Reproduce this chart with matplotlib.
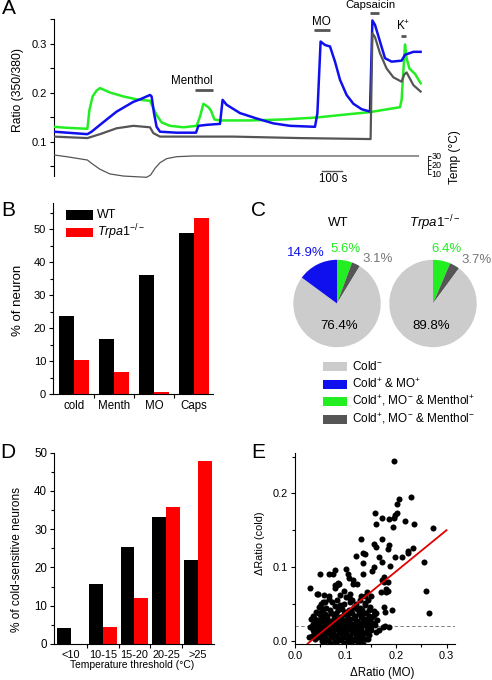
import matplotlib
matplotlib.use('Agg')
import matplotlib.pyplot as plt
from matplotlib.patches import Rectangle
from matplotlib.ticker import FixedLocator, MultipleLocator, FormatStrFormatter
import numpy as np

plt.rcParams['font.family'] = ['Liberation Sans', 'DejaVu Sans']
plt.rcParams['mathtext.fontset'] = 'custom'
plt.rcParams['mathtext.rm'] = 'Liberation Sans'
plt.rcParams['mathtext.it'] = 'Liberation Sans:italic'
plt.rcParams['mathtext.bf'] = 'Liberation Sans:bold'
plt.rcParams['font.size'] = 8.2
plt.rcParams['axes.linewidth'] = 0.8

# ---------------- DATA ----------------
# Panel A: ratio traces (time in s, ratio 350/380)
green_t = [0, 63, 167, 177, 193, 213, 230, 280, 347, 413, 480, 493, 513, 538, 580, 647, 713, 730, 747,
           772, 785, 802, 830, 980, 1147, 1313, 1480, 1580, 1730, 1738, 1755, 1763, 1777, 1805, 1833]
green_r = [0.131, 0.129, 0.127, 0.165, 0.193, 0.205, 0.210, 0.201, 0.193, 0.187, 0.184, 0.172, 0.155, 0.140,
           0.133, 0.130, 0.133, 0.152, 0.178, 0.171, 0.164, 0.146, 0.144, 0.144, 0.146, 0.150, 0.157, 0.161,
           0.171, 0.186, 0.299, 0.271, 0.250, 0.239, 0.220]
blue_t = [0, 167, 188, 230, 313, 397, 430, 480, 488, 500, 513, 530, 613, 710, 722, 763, 830, 843, 863, 930,
          1013, 1097, 1180, 1305, 1317, 1333, 1355, 1380, 1405, 1430, 1463, 1497, 1538, 1580, 1592, 1605,
          1630, 1655, 1688, 1738, 1755, 1797, 1833]
blue_r = [0.121, 0.116, 0.121, 0.135, 0.162, 0.182, 0.187, 0.196, 0.193, 0.159, 0.131, 0.121, 0.119, 0.119,
          0.133, 0.135, 0.137, 0.186, 0.176, 0.159, 0.148, 0.138, 0.133, 0.131, 0.159, 0.305, 0.298, 0.295,
          0.264, 0.227, 0.196, 0.178, 0.167, 0.162, 0.348, 0.339, 0.305, 0.271, 0.264, 0.266, 0.278, 0.284,
          0.284]
gray_t = [0, 167, 230, 313, 397, 480, 497, 530, 897, 1230, 1583, 1592, 1605, 1630, 1663, 1697, 1738, 1750,
          1763, 1797, 1833]
gray_r = [0.111, 0.108, 0.116, 0.128, 0.133, 0.130, 0.118, 0.111, 0.111, 0.108, 0.106, 0.322, 0.314, 0.281,
          0.250, 0.232, 0.223, 0.237, 0.242, 0.216, 0.203]
temp_t = [0, 63, 167, 188, 230, 280, 347, 463, 483, 505, 530, 563, 613, 697, 1822]
temp_c = [30.8, 28.9, 25.2, 21.5, 14.9, 9.7, 7.4, 6.0, 8.6, 16.0, 22.2, 26.7, 28.9, 29.7, 29.7]
stim_names = ['Menthol', 'MO', 'Capsaicin', 'K$^{+}$']
stim_on = [705, 1300, 1580, 1735]
stim_off = [795, 1380, 1625, 1760]

# Panel B
b_cats = ['cold', 'Menth', 'MO', 'Caps']
b_wt = [23.6, 16.6, 36.0, 48.9]
b_ko = [10.2, 6.7, 0.5, 53.2]

# Panel C
c_labels = ['Cold$^{-}$', 'Cold$^{+}$ & MO$^{+}$', 'Cold$^{+}$, MO$^{-}$ & Menthol$^{+}$',
            'Cold$^{+}$, MO$^{-}$ & Menthol$^{-}$']
c_wt = [76.4, 14.9, 5.6, 3.1]
c_ko = [89.8, 0.0, 6.4, 3.7]

# Panel D
d_cats = ['<10', '10-15', '15-20', '20-25', '>25']
d_wt = [4.1, 15.6, 25.4, 33.3, 22.0]
d_ko = [0.0, 4.5, 11.9, 35.9, 47.9]

# Panel E scatter (dRatio MO, dRatio cold)
e_x = [0.196, 0.201, 0.206, 0.229, 0.158, 0.172, 0.186, 0.199, 0.201, 0.196, 0.160, 0.218, 0.236, 0.194,
       0.274, 0.131, 0.173, 0.156, 0.160, 0.187, 0.185, 0.224, 0.233, 0.224, 0.135, 0.139, 0.120, 0.166,
       0.199, 0.211, 0.172, 0.256, 0.135, 0.157, 0.188, 0.100, 0.079, 0.067, 0.075, 0.050, 0.153, 0.134,
       0.104, 0.107, 0.114, 0.177, 0.172, 0.177, 0.185, 0.114, 0.122, 0.088, 0.083, 0.080, 0.030, 0.097,
       0.180, 0.180, 0.170, 0.185, 0.259, 0.143, 0.150, 0.139, 0.068, 0.059, 0.046, 0.109, 0.100, 0.129,
       0.139, 0.109, 0.089, 0.177, 0.193, 0.178, 0.266, 0.157, 0.147, 0.142, 0.175, 0.187, 0.178, 0.167,
       0.158, 0.043, 0.056, 0.079, 0.086,
       0.048, 0.061, 0.079, 0.094, 0.117, 0.129, 0.138,
       0.041, 0.054, 0.071, 0.086, 0.101, 0.111, 0.126, 0.146, 0.161,
       0.036, 0.049, 0.064, 0.077, 0.091, 0.104, 0.119, 0.133, 0.153,
       0.031, 0.044, 0.057, 0.070, 0.083, 0.096, 0.109, 0.123, 0.137, 0.149,
       0.036, 0.048, 0.060, 0.073, 0.087, 0.099, 0.114, 0.128, 0.141, 0.156,
       0.030, 0.042, 0.054, 0.066, 0.079, 0.092, 0.105, 0.117, 0.131, 0.144,
       0.037, 0.050, 0.062, 0.074, 0.087, 0.100, 0.112, 0.125, 0.137, 0.151,
       0.033, 0.046, 0.058, 0.070, 0.082, 0.095, 0.108, 0.120, 0.132, 0.147,
       0.040, 0.053, 0.065, 0.077, 0.090, 0.102, 0.115, 0.127, 0.140,
       0.058, 0.070, 0.084, 0.097, 0.110, 0.135,
       0.068, 0.074, 0.083, 0.058, 0.120, 0.112, 0.148, 0.157, 0.163, 0.160, 0.145, 0.125, 0.028, 0.035,
       0.052, 0.089, 0.098, 0.108, 0.130, 0.145,
       0.055, 0.070, 0.087, 0.106, 0.123, 0.133,
       0.046, 0.060, 0.082, 0.097, 0.113, 0.129, 0.141,
       0.038, 0.051, 0.063, 0.077, 0.090, 0.103, 0.116, 0.130, 0.143,
       0.042, 0.054, 0.067, 0.080, 0.093, 0.106, 0.120, 0.134, 0.148,
       0.036, 0.048, 0.060, 0.072, 0.085, 0.098, 0.111, 0.124, 0.137, 0.150,
       0.043, 0.056, 0.068, 0.081, 0.094, 0.106, 0.118, 0.131, 0.143,
       0.039, 0.051, 0.064, 0.076, 0.088, 0.101, 0.113, 0.126, 0.139,
       0.046, 0.059, 0.071, 0.083, 0.096, 0.108, 0.121, 0.133,
       0.053, 0.066, 0.079, 0.091, 0.104, 0.117, 0.130]
e_y = [0.244, 0.186, 0.193, 0.195, 0.174, 0.167, 0.165, 0.171, 0.174, 0.166, 0.158, 0.163, 0.159, 0.154,
       0.153, 0.138, 0.138, 0.131, 0.127, 0.130, 0.125, 0.122, 0.126, 0.119, 0.119, 0.118, 0.115, 0.114,
       0.114, 0.113, 0.107, 0.107, 0.106, 0.100, 0.102, 0.098, 0.096, 0.090, 0.090, 0.091, 0.094, 0.090,
       0.091, 0.085, 0.082, 0.087, 0.082, 0.080, 0.080, 0.077, 0.077, 0.077, 0.075, 0.072, 0.071, 0.068,
       0.070, 0.066, 0.066, 0.067, 0.068, 0.066, 0.061, 0.060, 0.061, 0.053, 0.064, 0.057, 0.059, 0.055,
       0.051, 0.052, 0.048, 0.046, 0.042, 0.039, 0.037, 0.035, 0.033, 0.026, 0.019, 0.019, 0.020, 0.014,
       0.021, 0.064, 0.053, 0.076, 0.078,
       0.046, 0.044, 0.047, 0.043, 0.046, 0.044, 0.048,
       0.039, 0.041, 0.038, 0.041, 0.039, 0.042, 0.038, 0.041, 0.038,
       0.033, 0.036, 0.034, 0.035, 0.032, 0.036, 0.033, 0.035, 0.032,
       0.029, 0.028, 0.030, 0.027, 0.030, 0.028, 0.030, 0.027, 0.029, 0.027,
       0.023, 0.025, 0.022, 0.024, 0.023, 0.025, 0.022, 0.024, 0.022, 0.024,
       0.018, 0.017, 0.019, 0.017, 0.019, 0.016, 0.019, 0.017, 0.019, 0.017,
       0.012, 0.014, 0.012, 0.013, 0.011, 0.014, 0.012, 0.013, 0.011, 0.014,
       0.007, 0.008, 0.006, 0.009, 0.007, 0.008, 0.006, 0.009, 0.007, 0.008,
       0.002, 0.003, 0.001, 0.004, 0.002, 0.003, 0.001, 0.004, 0.002,
       -0.002, -0.003, -0.001, -0.003, -0.002, -0.004,
       0.057, 0.052, 0.055, 0.062, 0.050, 0.055, 0.046, 0.040, 0.028, 0.012, 0.002, -0.003, 0.005, 0.015,
       0.050, 0.062, 0.050, 0.064, 0.060, 0.055,
       0.043, 0.042, 0.044, 0.041, 0.043, 0.042,
       0.037, 0.036, 0.038, 0.036, 0.037, 0.036, 0.038,
       0.031, 0.032, 0.030, 0.031, 0.032, 0.030, 0.031, 0.032, 0.030,
       0.026, 0.027, 0.025, 0.026, 0.027, 0.025, 0.026, 0.027, 0.025,
       0.021, 0.020, 0.021, 0.020, 0.021, 0.020, 0.021, 0.020, 0.021, 0.020,
       0.015, 0.016, 0.015, 0.016, 0.015, 0.016, 0.015, 0.016, 0.015,
       0.010, 0.010, 0.011, 0.010, 0.010, 0.011, 0.010, 0.010, 0.011,
       0.005, 0.004, 0.005, 0.004, 0.005, 0.004, 0.005, 0.004,
       0.000, 0.001, 0.000, 0.001, 0.000, 0.001, 0.000]
fit_slope = 0.56
fit_intercept = -0.018
fit_range = [0.025, 0.30]
cold_threshold = 0.02

# ---------------- FIGURE ----------------
W, H = 492, 680
fig = plt.figure(figsize=(W / 100, H / 100), dpi=100)


def rect(l, t, r, b):
    return [l / W, 1 - b / H, (r - l) / W, (b - t) / H]


def ftext(x, y, s, **kw):
    kw.setdefault('ha', 'center')
    kw.setdefault('va', 'center')
    return fig.text(x / W, 1 - y / H, s, **kw)


GREEN = '#22ee22'
BLUE = '#1010ee'
DGRAY = '#555555'
LGRAY = '#cccccc'
TICK = 8.0
LET = 15

# ---- Panel A ----
axA = fig.add_axes(rect(54, 17, 428, 182))
axA.plot(green_t, green_r, color=GREEN, lw=1.8, zorder=3)
axA.plot(blue_t, blue_r, color=BLUE, lw=1.8, zorder=4)
axA.plot(gray_t, gray_r, color=DGRAY, lw=1.6, zorder=5)
axA.set_xlim(0, 1870)
axA.set_ylim(0.1 - (182 - 142) / 490, 0.1 + (142 - 17) / 490)
for s in ['top', 'right', 'bottom']:
    axA.spines[s].set_visible(False)
axA.spines['left'].set_bounds(0.03, 0.35)
axA.set_xticks([])
axA.yaxis.set_major_locator(FixedLocator([0.1, 0.2, 0.3]))
axA.yaxis.set_minor_locator(FixedLocator([0.05, 0.15, 0.25, 0.35]))
axA.yaxis.set_major_formatter(FormatStrFormatter('%.1f'))
axA.tick_params(axis='y', which='both', direction='out', length=3, width=0.8, pad=2, labelsize=TICK)
for name, t0, t1, yb in zip(stim_names, stim_on, stim_off, [0.2061, 0.3286, 0.3633, 0.3163]):
    axA.plot([t0, t1], [yb, yb], color=DGRAY, lw=2.0, solid_capstyle='butt', clip_on=False)
ftext(192, 81, 'Menthol', fontsize=8.4)
ftext(321, 22, 'MO', fontsize=8.4)
ftext(370, 4.5, 'Capsaicin', fontsize=8.2)
ftext(403, 26, 'K$^{+}$', fontsize=8.4)
# scale bar
axA.plot([1340, 1440], [0.0408, 0.0408], color=DGRAY, lw=1.0, clip_on=False)
ftext(333, 179, '100 s', fontsize=8.3)
ftext(18, 90, 'Ratio (350/380)', rotation=90, fontsize=8.7)

axT = axA.twinx()
axT.plot(temp_t, temp_c, color=DGRAY, lw=0.9)
axT.set_ylim(30 - (182 - 155.7) / 0.9, 30 + (155.7 - 17) / 0.9)
for s in ['top', 'left', 'bottom']:
    axT.spines[s].set_visible(False)
axT.spines['right'].set_bounds(10, 30)
axT.spines['right'].set_linewidth(0.6)
axT.yaxis.set_major_locator(FixedLocator([10, 20, 30]))
axT.yaxis.set_minor_locator(FixedLocator([15, 25]))
axT.tick_params(axis='y', which='both', direction='out', length=2, width=0.6, labelsize=6.5, pad=0.5)
ftext(455, 157, 'Temp (°C)', rotation=90, fontsize=8.6)
ftext(9, 9, 'A', fontsize=LET)

# ---- Panel B ----
bw = 0.375
axB = fig.add_axes(rect(53, 394 - 58 * 3.3, 213, 394))
xb = np.arange(1, len(b_cats) + 1)
axB.bar(xb - bw / 2, b_wt, bw, color='black', linewidth=0)
axB.bar(xb + bw / 2, b_ko, bw, color='#ff0000', linewidth=0)
axB.set_xlim(0.475, 4.475)
axB.set_ylim(0, 58)
for s in ['top', 'right']:
    axB.spines[s].set_visible(False)
axB.set_xticks(xb)
axB.set_xticklabels(b_cats)
axB.xaxis.set_minor_locator(FixedLocator([1.5, 2.5, 3.5]))
axB.tick_params(axis='x', which='major', length=0, pad=4, labelsize=8.3)
axB.tick_params(axis='x', which='minor', length=3, width=0.8, direction='out')
axB.yaxis.set_major_locator(MultipleLocator(10))
axB.yaxis.set_minor_locator(MultipleLocator(5))
axB.tick_params(axis='y', which='major', length=3, width=0.8, direction='out', pad=2, labelsize=TICK)
axB.tick_params(axis='y', which='minor', length=2, width=0.8, direction='out')
ftext(18, 300, '% of neuron', rotation=90, fontsize=9.5)
fig.patches.append(Rectangle((66 / W, 1 - 220 / H), 27 / W, 10 / H, transform=fig.transFigure,
                             facecolor='black', edgecolor='none'))
fig.patches.append(Rectangle((66 / W, 1 - 237 / H), 27 / W, 9 / H, transform=fig.transFigure,
                             facecolor='#ff0000', edgecolor='none'))
ftext(97, 215, 'WT', ha='left', fontsize=9)
ftext(97, 232, r'$\mathit{Trpa1}^{-/-}$', ha='left', fontsize=9)
ftext(8, 211, 'B', fontsize=LET)

# ---- Panel C ----
pie_order = [2, 3, 0, 1]  # clockwise from top: menthol+, menthol-, cold-, MO+
pie_colors_all = [LGRAY, BLUE, GREEN, DGRAY]
R = 43.7
for cx, vals in [(337, c_wt), (433, c_ko)]:
    axp = fig.add_axes(rect(cx - R, 303.5 - R, cx + R, 303.5 + R))
    v = [vals[i] for i in pie_order if vals[i] > 0]
    cl = [pie_colors_all[i] for i in pie_order if vals[i] > 0]
    axp.pie(v, colors=cl, startangle=90, counterclock=False, radius=1,
            wedgeprops=dict(linewidth=0))
    axp.set_xlim(-1, 1)
    axp.set_ylim(-1, 1)
    axp.set_aspect('auto')
    axp.axis('off')
PF = 9.5
ftext(338, 223, 'WT', fontsize=9.5)
ftext(435, 223, r'$\mathit{Trpa1}^{-/-}$', fontsize=9.5)
ftext(306, 253, f'{c_wt[1]:.1f}%', color=BLUE, fontsize=PF)
ftext(346, 249, f'{c_wt[2]:.1f}%', color=GREEN, fontsize=PF)
ftext(378, 259, f'{c_wt[3]:.1f}%', color='#777777', fontsize=PF)
ftext(339, 326, f'{c_wt[0]:.1f}%', fontsize=PF)
ftext(446, 249, f'{c_ko[2]:.1f}%', color=GREEN, fontsize=PF)
ftext(477, 260, f'{c_ko[3]:.1f}%', color='#777777', fontsize=PF)
ftext(431, 326, f'{c_ko[0]:.1f}%', fontsize=PF)
for i, (lab, col) in enumerate(zip(c_labels, pie_colors_all)):
    yc = [367, 384, 401, 419][i]
    fig.patches.append(Rectangle((323 / W, 1 - (yc + 4.5) / H), 24 / W, 9 / H,
                                 transform=fig.transFigure, facecolor=col, edgecolor='none'))
    ftext(352, yc, lab, ha='left', fontsize=8.5)
ftext(258, 210, 'C', fontsize=LET)

# ---- Panel D ----
dw = 0.44
axD = fig.add_axes(rect(54, 452.7, 214, 644))
xd = np.arange(1, len(d_cats) + 1)
axD.bar(xd - dw / 2, d_wt, dw, color='black', linewidth=0)
axD.bar(xd + dw / 2, d_ko, dw, color='#ff0000', linewidth=0)
axD.set_xlim(0.465, 5.504)
axD.set_ylim(0, 50)
for s in ['top', 'right']:
    axD.spines[s].set_visible(False)
axD.set_xticks(xd)
axD.set_xticklabels(d_cats)
axD.xaxis.set_minor_locator(FixedLocator([1.5, 2.5, 3.5, 4.5]))
axD.tick_params(axis='x', which='major', length=0, pad=4, labelsize=7.9)
axD.tick_params(axis='x', which='minor', length=3, width=0.8, direction='out')
axD.yaxis.set_major_locator(MultipleLocator(10))
axD.yaxis.set_minor_locator(MultipleLocator(5))
axD.tick_params(axis='y', which='major', length=3, width=0.8, direction='out', pad=2, labelsize=8.3)
axD.tick_params(axis='y', which='minor', length=2, width=0.8, direction='out')
ftext(17, 560, '% of cold-sensitive neurons', rotation=90, fontsize=8.6)
ftext(132, 665, 'Temperature threshold (°C)', fontsize=7.4)
ftext(8, 452, 'D', fontsize=LET)

# ---- Panel E ----
axE = fig.add_axes(rect(295, 453, 455, 644))
axE.scatter(e_x, e_y, s=19, color='black', linewidths=0, zorder=3)
fx = np.array(fit_range)
axE.plot(fx, fit_slope * fx + fit_intercept, color='#e00000', lw=1.3, zorder=4)
axE.axhline(cold_threshold, color='#666666', lw=0.6, ls=(0, (4, 3)), zorder=2)
axE.set_xlim(0, 160 / 505)
axE.set_ylim((640.7 - 644) / 736.7, (640.7 - 453) / 736.7)
for s in ['top', 'right']:
    axE.spines[s].set_visible(False)
axE.xaxis.set_major_locator(MultipleLocator(0.1))
axE.xaxis.set_minor_locator(MultipleLocator(0.05))
axE.yaxis.set_major_locator(MultipleLocator(0.1))
axE.yaxis.set_minor_locator(MultipleLocator(0.05))
axE.xaxis.set_major_formatter(FormatStrFormatter('%.1f'))
axE.yaxis.set_major_formatter(FormatStrFormatter('%.1f'))
axE.tick_params(which='major', length=3, width=0.8, direction='out', pad=2, labelsize=7.9)
axE.tick_params(which='minor', length=2, width=0.8, direction='out')
ftext(260, 543, 'ΔRatio (cold)', rotation=90, fontsize=7.8)
ftext(382, 673, 'ΔRatio (MO)', fontsize=8.3)
ftext(258, 452, 'E', fontsize=LET)

fig.savefig('out.png', dpi=100)
